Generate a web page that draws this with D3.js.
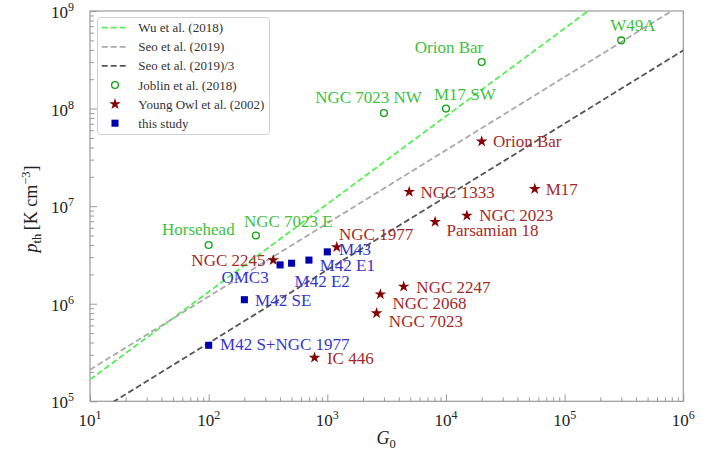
<!DOCTYPE html>
<html><head><meta charset="utf-8">
<script src="https://cdn.jsdelivr.net/npm/d3@7"></script>
<style>
body{margin:0;background:#fff}
svg{display:block}
text{font-family:"Liberation Serif","Times New Roman",serif}
</style>
</head><body>
<svg id="c" width="719" height="457"></svg>
<script>
// ---------- data ----------
const joblinNames = ["Horsehead","NGC 7023 E","NGC 7023 NW","M17 SW","Orion Bar","W49A"];
const joblinG = [100, 250, 3000, 1e4, 2e4, 3e5];
const joblinP = [4e6, 5e6, 9e7, 1e8, 3e8, 5e8];

const youngNames = ["NGC 2245","IC 446","NGC 1977","NGC 7023","NGC 2068","NGC 2247","NGC 1333","Parsamian 18","NGC 2023","Orion Bar","M17"];
const youngG = [350, 780, 1200, 2600, 2800, 4400, 4900, 8100, 1.5e4, 2e4, 5.6e4];
const youngP = [2.8e6, 2.8e5, 3.8e6, 8e5, 1.25e6, 1.5e6, 1.4e7, 6.9e6, 8e6, 4.6e7, 1.5e7];

const studyNames = ["M42 S+NGC 1977","M42 SE","OMC3","M42 E2","M42 E1","M43"];
const studyG = [100, 200, 400, 500, 700, 1000];
const studyP = [3.75e5, 1.1e6, 2.5e6, 2.6e6, 2.8e6, 3.4e6];

const lineNames = ["Wu et al. (2018)","Seo et al. (2019)","Seo et al. (2019)/3"];
const lineCoef = [2.1e4, 3.75e4, 1.25e4];
const lineSlope = [0.9, 0.75, 0.75];

const legendNames = ["Wu et al. (2018)","Seo et al. (2019)","Seo et al. (2019)/3","Joblin et al. (2018)","Young Owl et al. (2002)","this study"];

const xTickExp = [1,2,3,4,5,6];
const yTickExp = [5,6,7,8,9];

// ---------- layout / style ----------
const W = 719, H = 457;
const L = 90, R = 683.3, T = 11, B = 401.3;
const lineColors = ["#55f055","#aaaaaa","#555555"];
const cGreenM = "#16a316", cGreenT = "#3fbf3f";
const cRedM = "#850000", cRedT = "#a32a2a";
const cBlueM = "#0000b0", cBlueT = "#3535cc";

// label offsets [dx, dy, anchor]
const joblinLab = {"Horsehead":[26,-10,"end"],"NGC 7023 E":[-12,-8.6,"start"],"NGC 7023 NW":[38,-10,"end"],
  "M17 SW":[-12,-9,"start"],"Orion Bar":[1.5,-9.4,"end"],"W49A":[-11,-9,"start"]};
const youngLab = {"NGC 2245":[-7.7,5.7,"end"],"IC 446":[12.4,6,"start"],"NGC 1977":[2.3,-7,"start"],
  "NGC 7023":[12.3,14,"start"],"NGC 2068":[12,14.3,"start"],"NGC 2247":[12.7,6.6,"start"],
  "NGC 1333":[11.3,6.3,"start"],"Parsamian 18":[11.4,14.3,"start"],"NGC 2023":[12.3,5.3,"start"],
  "Orion Bar":[11.3,5.6,"start"],"M17":[11,5.7,"start"]};
const studyLab = {"M42 S+NGC 1977":[11.4,4.7,"start"],"M42 SE":[10.7,6.7,"start"],"OMC3":[-11.4,18.3,"end"],
  "M42 E2":[3,24,"start"],"M42 E1":[10.7,11.4,"start"],"M43":[11.6,3.3,"start"]};

const svg = d3.select("#c");
const x = d3.scaleLog().domain([10,1e6]).range([L,R]);
const y = d3.scaleLog().domain([1e5,1e9]).range([B,T]);

svg.append("defs").append("clipPath").attr("id","clip")
  .append("rect").attr("x",L).attr("y",T).attr("width",R-L).attr("height",B-T);

// ---------- axes ----------
const axisCol = "#9a9a9a";
const majX = xTickExp.map(e => Math.pow(10,e));
const minX = x.ticks().filter(v => Math.abs(Math.log10(v) - Math.round(Math.log10(v))) > 1e-6);
const majY = yTickExp.map(e => Math.pow(10,e));
const minY = y.ticks().filter(v => Math.abs(Math.log10(v) - Math.round(Math.log10(v))) > 1e-6);

function styleAxis(g){
  g.select(".domain").remove();
  g.selectAll("line").attr("stroke",axisCol).attr("stroke-width",1);
  g.selectAll("text").remove();
}
svg.append("g").attr("transform",`translate(0,${B})`)
  .call(d3.axisBottom(x).tickValues(majX).tickSize(-7)).call(styleAxis);
svg.append("g").attr("transform",`translate(0,${B})`)
  .call(d3.axisBottom(x).tickValues(minX).tickSize(-4)).call(styleAxis);
svg.append("g").attr("transform",`translate(${L},0)`)
  .call(d3.axisLeft(y).tickValues(majY).tickSize(-7)).call(styleAxis);
svg.append("g").attr("transform",`translate(${L},0)`)
  .call(d3.axisLeft(y).tickValues(minY).tickSize(-4)).call(styleAxis);

svg.append("rect").attr("x",L).attr("y",T).attr("width",R-L).attr("height",B-T)
  .attr("fill","none").attr("stroke",axisCol).attr("stroke-width",1.2);

// tick labels
xTickExp.forEach(e => {
  const t = svg.append("text").attr("x", x(Math.pow(10,e))).attr("y", B+25)
    .attr("text-anchor","middle").attr("font-size",17).attr("fill","#222");
  t.append("tspan").text("10");
  t.append("tspan").attr("font-size",12).attr("dy",-7).text(e);
});
yTickExp.forEach(e => {
  const t = svg.append("text").attr("x", L-16).attr("y", y(Math.pow(10,e))+7)
    .attr("text-anchor","end").attr("font-size",17).attr("fill","#222");
  t.append("tspan").text("10");
  t.append("tspan").attr("font-size",12).attr("dy",-7).text(e);
});

// axis titles
{
  const t = svg.append("text").attr("x", 386).attr("y", 444).attr("text-anchor","middle")
    .attr("font-size",18).attr("fill","#222");
  t.append("tspan").attr("font-style","italic").text("G");
  t.append("tspan").attr("font-size",12.5).attr("dy",4).text("0");
}
{
  const t = svg.append("text").attr("transform","translate(37,209) rotate(-90)").attr("text-anchor","middle")
    .attr("font-size",18).attr("fill","#222");
  t.append("tspan").attr("font-style","italic").text("p");
  t.append("tspan").attr("font-size",12.5).attr("dy",4).text("th");
  t.append("tspan").attr("dy",-4).text("\u2009[K cm");
  t.append("tspan").attr("font-size",12.5).attr("dy",-7).text("\u22123");
  t.append("tspan").attr("dy",7).text("]");
}

// ---------- fit lines ----------
const plot = svg.append("g").attr("clip-path","url(#clip)");
const lineGen = d3.line().x(d => x(d[0])).y(d => y(d[1]));
lineNames.forEach((n,i) => {
  const gs = [10, 1e6];
  const pts = gs.map(g => [g, lineCoef[i]*Math.pow(g, lineSlope[i])]);
  plot.append("path").attr("d", lineGen(pts)).attr("fill","none")
    .attr("stroke", lineColors[i]).attr("stroke-width",1.8).attr("stroke-dasharray","6,3");
});

// ---------- markers & labels ----------
const star = d3.symbol().type(d3.symbolStar).size(42);
const square = d3.symbol().type(d3.symbolSquare).size(50);

joblinNames.forEach((n,i) => {
  const px = x(joblinG[i]), py = y(joblinP[i]);
  svg.append("circle").attr("cx",px).attr("cy",py).attr("r",3.4)
    .attr("fill","none").attr("stroke",cGreenM).attr("stroke-width",1.4);
  const o = joblinLab[n];
  svg.append("text").attr("x",px+o[0]).attr("y",py+o[1]).attr("text-anchor",o[2])
    .attr("font-size",17).attr("fill",cGreenT).text(n);
});
youngNames.forEach((n,i) => {
  const px = x(youngG[i]), py = y(youngP[i]);
  svg.append("path").attr("d",star()).attr("transform",`translate(${px},${py})`).attr("fill",cRedM);
  const o = youngLab[n];
  svg.append("text").attr("x",px+o[0]).attr("y",py+o[1]).attr("text-anchor",o[2])
    .attr("font-size",17).attr("fill",cRedT).text(n);
});
studyNames.forEach((n,i) => {
  const px = x(studyG[i]), py = y(studyP[i]);
  svg.append("path").attr("d",square()).attr("transform",`translate(${px},${py})`).attr("fill",cBlueM);
  const o = studyLab[n];
  svg.append("text").attr("x",px+o[0]).attr("y",py+o[1]).attr("text-anchor",o[2])
    .attr("font-size",17).attr("fill",cBlueT).text(n);
});

// ---------- legend ----------
const lg = svg.append("g");
lg.append("rect").attr("x",97.5).attr("y",17.5).attr("width",172).attr("height",117).attr("rx",3)
  .attr("fill","white").attr("fill-opacity",0.85).attr("stroke","#d0d0d0").attr("stroke-width",1);
const rowY = i => 27.7 + i*19.1;
legendNames.forEach((n,i) => {
  const cy = rowY(i);
  if (i < 3) {
    lg.append("line").attr("x1",101.7).attr("x2",128.3).attr("y1",cy).attr("y2",cy)
      .attr("stroke",lineColors[i]).attr("stroke-width",1.8).attr("stroke-dasharray","6,3");
  } else if (i === 3) {
    lg.append("circle").attr("cx",115).attr("cy",cy).attr("r",3.4).attr("fill","none")
      .attr("stroke",cGreenM).attr("stroke-width",1.4);
  } else if (i === 4) {
    lg.append("path").attr("d",star()).attr("transform",`translate(115,${cy})`).attr("fill",cRedM);
  } else {
    lg.append("path").attr("d",square()).attr("transform",`translate(115,${cy})`).attr("fill",cBlueM);
  }
  lg.append("text").attr("x",138.3).attr("y",cy+4.5).attr("font-size",13).attr("fill","#333").text(n);
});
</script>
</body></html>
